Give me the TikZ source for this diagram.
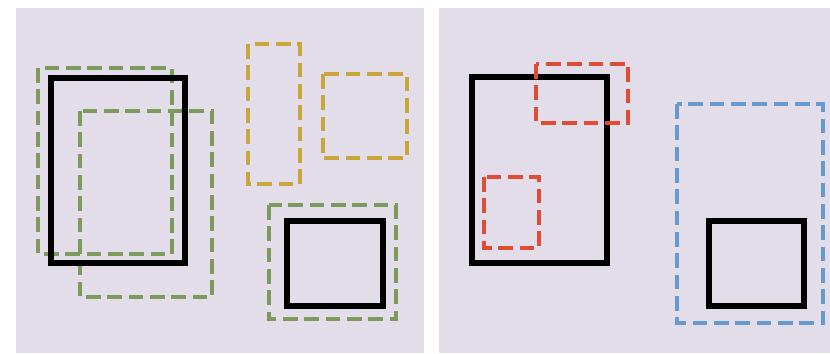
\documentclass[tikz,border=0pt]{standalone}
\usepackage{tikz}

\definecolor{panelbg}{HTML}{E2DDE9}
\definecolor{predgreen}{HTML}{7C9A5C}
\definecolor{predyellow}{HTML}{C9A53E}
\definecolor{predred}{HTML}{E04B35}
\definecolor{predblue}{HTML}{6699CF}

\begin{document}
\begin{tikzpicture}[x=0.75pt,y=-0.75pt,
  gtbox/.style={draw=black,line width=3.9pt},
  predbox/.style={line width=3.5pt,dash pattern=on 11pt off 5pt}]
\useasboundingbox (0,0) rectangle (830,353);
\fill[white] (0,0) rectangle (830,353);
\fill[panelbg] (16,8) rectangle (424,353);
\fill[panelbg] (439,8) rectangle (830,353);
% left panel
\draw[predbox,draw=predgreen] (38,68) rectangle (172,254);
\draw[predbox,draw=predgreen] (80,111) rectangle (212,297);
\draw[gtbox] (51,78) rectangle (185,263);
\draw[predbox,draw=predyellow] (248,44) rectangle (300,184);
\draw[predbox,draw=predyellow] (323,74) rectangle (407,158);
\draw[predbox,draw=predgreen] (269,205) rectangle (396,319);
\draw[gtbox] (287,221) rectangle (383,306);
% right panel
\draw[gtbox] (472,77) rectangle (607,263);
\draw[predbox,draw=predred] (536,64) rectangle (628,123);
\draw[predbox,draw=predred] (484,177) rectangle (539,248);
\draw[predbox,draw=predblue] (677,104) rectangle (823,323);
\draw[gtbox] (709,221) rectangle (804,306);
\end{tikzpicture}
\end{document}
